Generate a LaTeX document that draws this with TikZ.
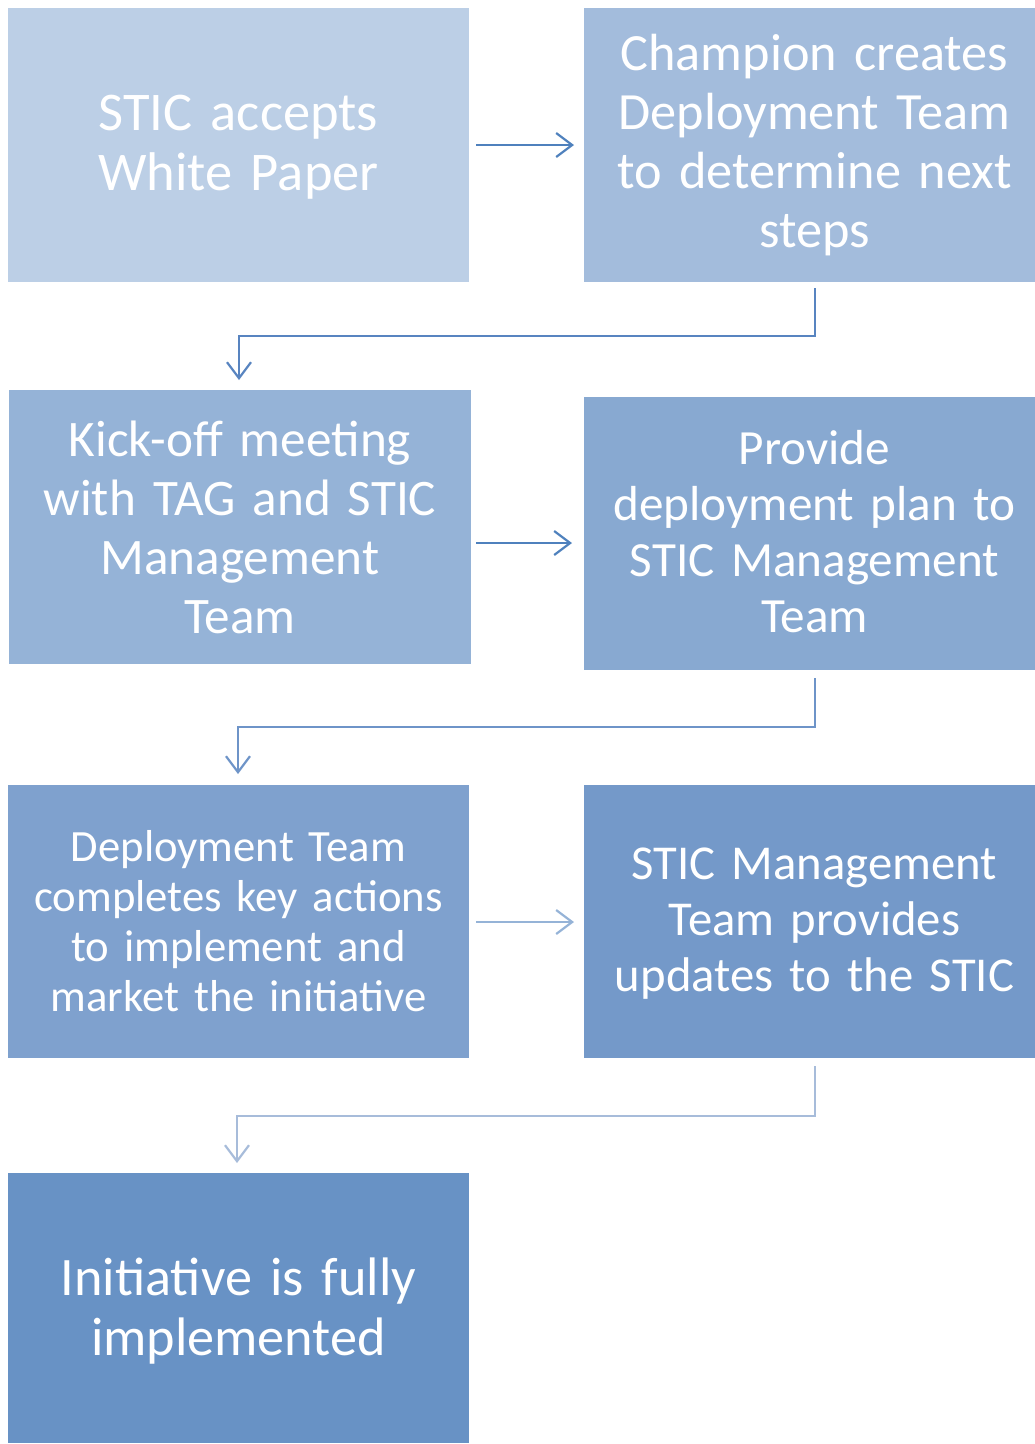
\documentclass[tikz,border=0pt]{standalone}
\usepackage{fontspec}
\setmainfont{Carlito}
\usetikzlibrary{arrows.meta}
\definecolor{cA}{RGB}{188,207,230}
\definecolor{cB}{RGB}{163,188,220}
\definecolor{cC}{RGB}{149,179,215}
\definecolor{cD}{RGB}{136,169,209}
\definecolor{cE}{RGB}{127,161,206}
\definecolor{cF}{RGB}{116,153,201}
\definecolor{cG}{RGB}{104,146,197}
\definecolor{aA}{RGB}{79,129,189}
\definecolor{aB}{RGB}{88,132,192}
\definecolor{aC}{RGB}{79,129,189}
\definecolor{aD}{RGB}{110,148,200}
\definecolor{aE}{RGB}{149,179,215}
\definecolor{aF}{RGB}{167,188,218}
\tikzset{
  box/.style={draw=none,inner sep=0pt,text=white,align=center,anchor=north west},
  conn/.style={line width=2.2pt,-{Straight Barb[length=16pt,width=24pt,line width=2.2pt]}},
}
\begin{document}
\begin{tikzpicture}[x=1pt,y=-1pt]
\useasboundingbox (0,0) rectangle (1035,1444);
% boxes
\fill[cA] (8,8) rectangle (469,282);
\node[box,text width=461pt,anchor=center,font=\fontsize{54.5}{60}\selectfont] (b1) at (238.5,147) {STIC accepts\\White Paper};
\fill[cB] (584,8) rectangle (1035,282);
\node[box,text width=451pt,anchor=center,font=\fontsize{52.3}{59}\selectfont] (b2) at (814.5,145) {Champion creates\\Deployment Team\\to determine next\\steps};
\fill[cC] (9,390) rectangle (471,664);
\node[box,text width=462pt,anchor=center,font=\fontsize{51.2}{59}\selectfont] (b3) at (240,527) {Kick-off meeting\\with TAG and STIC\\Management\\Team};
\fill[cD] (584,397) rectangle (1035,670);
\node[box,text width=451pt,anchor=center,font=\fontsize{49.2}{56}\selectfont] (b4) at (814.5,532) {Provide\\deployment plan to\\STIC Management\\Team};
\fill[cE] (8,785) rectangle (469,1058);
\node[box,text width=461pt,anchor=center,font=\fontsize{44.7}{50}\selectfont] (b5) at (238.5,921.5) {Deployment Team\\completes key actions\\to implement and\\market the initiative};
\fill[cF] (584,785) rectangle (1035,1058);
\node[box,text width=451pt,anchor=center,font=\fontsize{48.7}{56}\selectfont] (b6) at (814.5,923.5) {STIC Management\\Team provides\\updates to the STIC};
\fill[cG] (8,1173) rectangle (469,1443);
\node[box,text width=461pt,anchor=center,font=\fontsize{54.2}{60}\selectfont] (b7) at (238.5,1311) {Initiative is fully\\implemented};
% anchor coordinates
\coordinate (r1s) at (476,145); \coordinate (r1e) at (574,145);
\coordinate (e1s) at (815,288); \coordinate (e1e) at (239,380);
\coordinate (r2s) at (476,543); \coordinate (r2e) at (572,543);
\coordinate (e2s) at (815,678); \coordinate (e2e) at (238,774);
\coordinate (r3s) at (476,922); \coordinate (r3e) at (574,922);
\coordinate (e3s) at (815,1066); \coordinate (e3e) at (237,1163);
% connectors
\draw[conn,aA] (r1s) -- (r1e);
\draw[conn,aB] (e1s) -- (815,336) -| (e1e);
\draw[conn,aC] (r2s) -- (r2e);
\draw[conn,aD] (e2s) -- (815,727) -| (e2e);
\draw[conn,aE] (r3s) -- (r3e);
\draw[conn,aF] (e3s) -- (815,1116) -| (e3e);
\end{tikzpicture}
\end{document}
